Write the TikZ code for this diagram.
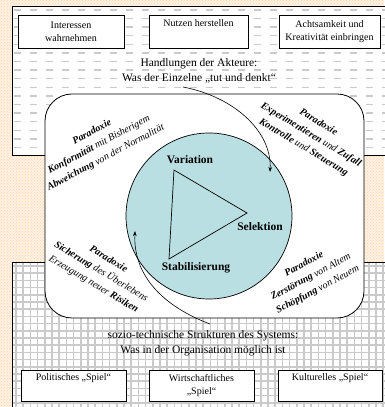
\documentclass[tikz,border=0pt]{standalone}
\usepackage{fontspec}
\setmainfont{Liberation Serif}
\usetikzlibrary{arrows.meta, patterns}
\definecolor{bgorange}{HTML}{FFF1E2}
\definecolor{cyclecyan}{HTML}{BADFE2}
\definecolor{panelgray}{HTML}{CACACA}

\begin{document}
\begin{tikzpicture}[
    x=1pt, y=1pt,
    >={Stealth[length=5pt, width=3.6pt]},
    box/.style={draw, line width=0.7pt, fill=white, minimum width=#1, minimum height=33pt, inner sep=2pt, align=center, font=\fontsize{10}{13}\selectfont},
    header/.style={align=center, inner sep=1pt, font=\fontsize{11.5}{15}\selectfont},
    phase/.style={font=\fontsize{11.5}{14}\selectfont\bfseries},
    paradox/.style={align=center, inner sep=0pt, font=\fontsize{10}{14.5}\selectfont\itshape},
    flow/.style={->, line width=0.6pt},
]
\useasboundingbox (0,0) rectangle (384,407);

% Background
\fill[bgorange] (0,0) rectangle (384,407);
\fill[pattern=crosshatch dots, pattern color=orange!35] (0,0) rectangle (384,407);

% Actor panel (top)
\fill[white] (12,252) rectangle (395,401);
\begin{scope}
  \clip (12,252) rectangle (395,401);
  \foreach \r in {0,...,17}
    \draw[panelgray, line width=1.4pt, dash pattern=on 7pt off 9pt] (14,397-8.6*\r) -- (395,397-8.6*\r);
\end{scope}
\draw[line width=0.8pt] (12,252) rectangle (395,401);

% Structure panel (bottom)
\fill[white] (12,-5) rectangle (395,145);
\begin{scope}
  \clip (12,-5) rectangle (395,145);
  \foreach \c in {0,...,53}
    \draw[panelgray, line width=1.5pt] (16+7.2*\c,-5) -- (16+7.2*\c,145);
  \foreach \r in {0,...,20}
    \draw[panelgray, line width=1.5pt] (12,141-7.2*\r) -- (395,141-7.2*\r);
\end{scope}
\draw[line width=0.8pt] (12,-5) rectangle (395,145);

% Evolution frame
\draw[line width=0.8pt, fill=white, rounded corners=27pt] (45,89) rectangle (364,313);

% Cycle
\node[circle, draw, line width=0.7pt, fill=cyclecyan, minimum size=166pt] (circ) at (209,191) {};
\coordinate (tv) at (174,237);
\coordinate (ts) at (247,194);
\coordinate (tst) at (169,148);
\draw[line width=0.7pt] (tv) -- (ts) -- (tst) -- cycle;
\node[phase] (var) at (190,247) {Variation};
\node[phase] (sel) at (260,180) {Selektion};
\node[phase] (stab) at (196,139) {Stabilisierung};

% Paradoxes
\node[paradox, rotate=28] (pkon) at (99,262) {\textbf{Paradoxie}\\ \textbf{Konformität} mit Bisherigem\\ \textbf{Abweichung} von der Normalität};
\node[paradox, rotate=-31] (pexp) at (311,272) {\textbf{Paradoxie}\\ \textbf{Experimentieren} und \textbf{Zufall}\\ \textbf{Kontrolle} und \textbf{Steuerung}};
\node[paradox, rotate=-31] (psich) at (101,135) {\textbf{Paradoxie}\\ \textbf{Sicherung} des Überlebens\\ Erzeugung neuer \textbf{Risiken}};
\node[paradox, rotate=28] (pzer) at (311,130) {\textbf{Paradoxie}\\ \textbf{Zerstörung} von Altem\\ \textbf{Schöpfung} von Neuem};

% Headers
\node[header] (hdl) at (199,336) {Handlungen der Akteure:\\ Was der Einzelne „tut und denkt“};
\node[header] (soz) at (203,63.5) {sozio-technische Strukturen des Systems:\\ Was in der Organisation möglich ist};

% Connecting arcs
\coordinate (ta0) at (183,320);
\coordinate (ta1) at (270,235);
\coordinate (tb0) at (210,83);
\coordinate (tb1) at (135,176);
\draw[flow] (ta0) .. controls (235,310) and (272,275) .. (ta1);
\draw[flow] (tb0) .. controls (165,100) and (133,130) .. (tb1);

% Actions
\node[box=106pt] (int) at (71,375.5) {Interessen\\ wahrnehmen};
\node[box=99pt] (nutz) at (198.5,375.5) {Nutzen herstellen\\ \strut};
\node[box=101pt] (acht) at (329.5,375.5) {Achtsamkeit und\\ Kreativität einbringen};

% Games
\node[box=105pt, minimum height=31pt] (pol) at (73.5,21.5) {Politisches „Spiel“\\ \strut};
\node[box=105pt, minimum height=31pt] (wirt) at (201.5,21.5) {Wirtschaftliches\\ „Spiel“};
\node[box=104pt, minimum height=31pt] (kult) at (330,21.5) {Kulturelles „Spiel“\\ \strut};

\end{tikzpicture}
\end{document}
